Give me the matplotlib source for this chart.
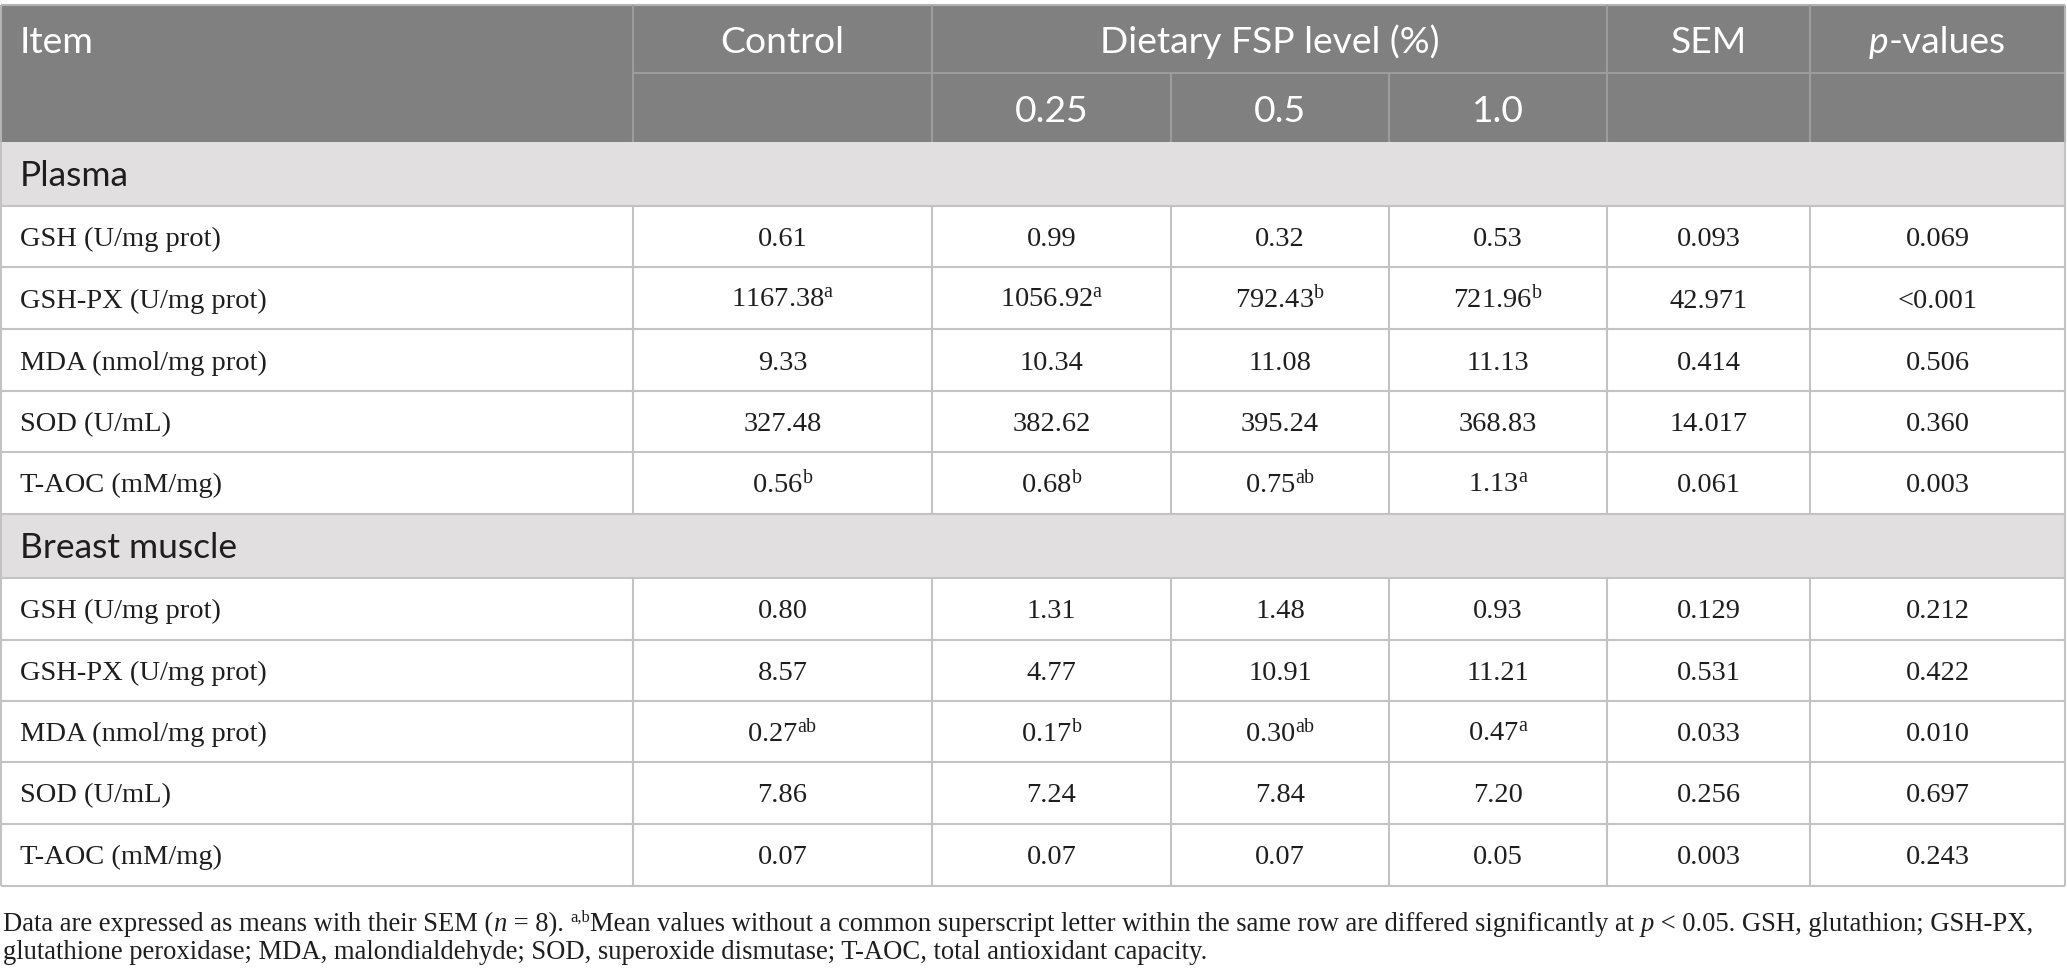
import matplotlib
matplotlib.use("Agg")
import matplotlib.pyplot as plt
from matplotlib.patches import Rectangle

# ---------------- data ----------------
items = ["GSH (U/mg prot)", "GSH-PX (U/mg prot)", "MDA (nmol/mg prot)",
         "SOD (U/mL)", "T-AOC (mM/mg)"]
sections = ["Plasma", "Breast muscle"]
group_labels = ["Control", "0.25", "0.5", "1.0"]
header_top = ["Item", "Control", "Dietary FSP level (%)", "SEM", "p-values"]

plasma_control = ["0.61", "1167.38", "9.33", "327.48", "0.56"]
plasma_025 = ["0.99", "1056.92", "10.34", "382.62", "0.68"]
plasma_05 = ["0.32", "792.43", "11.08", "395.24", "0.75"]
plasma_10 = ["0.53", "721.96", "11.13", "368.83", "1.13"]
plasma_sem = ["0.093", "42.971", "0.414", "14.017", "0.061"]
plasma_p = ["0.069", "<0.001", "0.506", "0.360", "0.003"]
plasma_sup = [["", "", "", ""], ["a", "a", "b", "b"], ["", "", "", ""],
              ["", "", "", ""], ["b", "b", "ab", "a"]]

breast_control = ["0.80", "8.57", "0.27", "7.86", "0.07"]
breast_025 = ["1.31", "4.77", "0.17", "7.24", "0.07"]
breast_05 = ["1.48", "10.91", "0.30", "7.84", "0.07"]
breast_10 = ["0.93", "11.21", "0.47", "7.20", "0.05"]
breast_sem = ["0.129", "0.531", "0.033", "0.256", "0.003"]
breast_p = ["0.212", "0.422", "0.010", "0.697", "0.243"]
breast_sup = [["", "", "", ""], ["", "", "", ""], ["ab", "b", "ab", "a"],
              ["", "", "", ""], ["", "", "", ""]]

footnote_1 = ["Data are expressed as means with their SEM (", "n", " = 8). ", "a,b",
              "Mean values without a common superscript letter within the same row are differed significantly at ",
              "p", " < 0.05. GSH, glutathion; GSH-PX,"]
footnote_2 = "glutathione peroxidase; MDA, malondialdehyde; SOD, superoxide dismutase; T-AOC, total antioxidant capacity."

# ---------------- style ----------------
plt.rcParams['mathtext.fontset'] = 'custom'
plt.rcParams['mathtext.rm'] = 'Liberation Serif'
plt.rcParams['mathtext.it'] = 'Liberation Serif:italic'
plt.rcParams['mathtext.bf'] = 'Liberation Serif:bold'

HEADER_BG = '#808080'
HEADER_LINE = '#9c9c9c'
SECTION_BG = '#e1dfe0'
GRID = '#c3c3c3'
TXT = '#1e1e1e'
SANS = 'Lato'
SERIF = 'Liberation Serif'
HFS = 26.8     # header font size (pt)
SFS = 25.5     # section font size
BFS = 20.5     # body font size
FFS = 18.4     # footnote font size (refit below to the line width)

W, H = 2067, 975
fig = plt.figure(figsize=(W / 100, H / 100), dpi=100)
ax = fig.add_axes([0, 0, 1, 1])
ax.set_xlim(0, W)
ax.set_ylim(H, 0)
ax.axis('off')

col_edges = [1, 633, 932, 1171, 1389, 1607, 1810, 2065]
row_edges = [5, 73, 142, 206, 267, 329, 391, 452, 514, 578, 640, 701, 762, 824, 886]

LW = 1.5


def hline(y, x0, x1, c=GRID, lw=LW):
    ax.plot([x0, x1], [y, y], color=c, lw=lw, solid_capstyle='butt', zorder=3)


def vline(x, y0, y1, c=GRID, lw=LW):
    ax.plot([x, x], [y0, y1], color=c, lw=lw, solid_capstyle='butt', zorder=3)


def rect(x0, y0, x1, y1, c):
    ax.add_patch(Rectangle((x0, y0), x1 - x0, y1 - y0, facecolor=c,
                           edgecolor='none', zorder=1))


fig.canvas.draw()
renderer = fig.canvas.get_renderer()


def runs_text(x, y, runs, ha='center'):
    """runs: list of (string, kwargs, rise). y is the baseline. Returns (objs, total width)."""
    objs, widths = [], []
    for s, kw, rise in runs:
        t = ax.text(0, y - rise, s, va='baseline', ha='left', zorder=5, **kw)
        bar = ax.text(0, y, '|', va='baseline', ha='left', **kw)
        both = ax.text(0, y, s + '|', va='baseline', ha='left', **kw)
        wb = bar.get_window_extent(renderer).width
        wt = both.get_window_extent(renderer).width
        bar.remove()
        both.remove()
        objs.append(t)
        widths.append(wt - wb)
    total = sum(widths)
    start = x - total / 2 if ha == 'center' else x
    for t, w in zip(objs, widths):
        t.set_x(start)
        start += w
    return objs, total


# ---------------- header ----------------
rect(col_edges[0], row_edges[0], col_edges[-1], row_edges[2], HEADER_BG)
hline(row_edges[0], col_edges[0], col_edges[-1], c='#b4b4b4')
hline(row_edges[1], col_edges[1], col_edges[-1], c=HEADER_LINE)
for xe in [col_edges[1], col_edges[2], col_edges[5], col_edges[6]]:
    vline(xe, row_edges[0], row_edges[2], c=HEADER_LINE)
for xe in [col_edges[3], col_edges[4]]:
    vline(xe, row_edges[1], row_edges[2], c=HEADER_LINE)
vline(col_edges[0], row_edges[0], row_edges[2], c='#b4b4b4')
vline(col_edges[-1], row_edges[0], row_edges[2], c='#b4b4b4')

hkw = dict(fontsize=HFS, family=SANS, color='white', fontweight='normal')
h1c = (row_edges[0] + row_edges[1]) / 2 + 14
h2c = (row_edges[1] + row_edges[2]) / 2 + 14
ax.text(20, h1c, header_top[0], va='baseline', ha='left', **hkw)
ax.text((col_edges[1] + col_edges[2]) / 2, h1c, header_top[1], va='baseline', ha='center', **hkw)
ax.text((col_edges[2] + col_edges[5]) / 2, h1c, header_top[2], va='baseline', ha='center', **hkw)
ax.text((col_edges[5] + col_edges[6]) / 2, h1c, header_top[3], va='baseline', ha='center', **hkw)
runs_text((col_edges[6] + col_edges[7]) / 2, h1c,
          [(header_top[4][0], dict(hkw, style='italic'), 0), (header_top[4][1:], hkw, 0)])
for j, lab in enumerate(group_labels[1:]):
    ax.text((col_edges[2 + j] + col_edges[3 + j]) / 2, h2c, lab,
            va='baseline', ha='center', **hkw)

# ---------------- body ----------------
plasma_cols = [plasma_control, plasma_025, plasma_05, plasma_10]
breast_cols = [breast_control, breast_025, breast_05, breast_10]
blocks = [(sections[0], plasma_cols, plasma_sem, plasma_p, plasma_sup),
          (sections[1], breast_cols, breast_sem, breast_p, breast_sup)]

bkw = dict(fontsize=BFS, family=SERIF, color=TXT)
r = 2
for name, cols, sem, pv, sup in blocks:
    y0, y1 = row_edges[r], row_edges[r + 1]
    rect(col_edges[0], y0, col_edges[-1], y1, SECTION_BG)
    ax.text(20, (y0 + y1) / 2 + 12, name, va='baseline', ha='left',
            fontsize=SFS, family=SANS, color=TXT, zorder=5)
    hline(y1, col_edges[0], col_edges[-1])
    vline(col_edges[0], y0, y1)
    vline(col_edges[-1], y0, y1)
    r += 1
    for i, item in enumerate(items):
        y0, y1 = row_edges[r], row_edges[r + 1]
        base = (y0 + y1) / 2 + 9.5
        ax.text(20, base, item, va='baseline', ha='left', zorder=5, **bkw)
        for j in range(4):
            s = cols[j][i]
            if sup[i][j]:
                s = s + r'$^{\rm ' + sup[i][j] + '}$'
            ax.text((col_edges[1 + j] + col_edges[2 + j]) / 2, base, s,
                    va='baseline', ha='center', zorder=5, **bkw)
        ax.text((col_edges[5] + col_edges[6]) / 2, base, sem[i],
                va='baseline', ha='center', zorder=5, **bkw)
        ax.text((col_edges[6] + col_edges[7]) / 2, base, pv[i],
                va='baseline', ha='center', zorder=5, **bkw)
        hline(y1, col_edges[0], col_edges[-1])
        for xe in col_edges:
            vline(xe, y0, y1)
        r += 1

# ---------------- footnote ----------------
FB1, FB2 = 931, 959
FX0, FX1 = 3, 2033


def footnote_runs(fs):
    fkw = dict(fontsize=fs, family=SERIF, color=TXT)
    fikw = dict(fkw, style='italic')
    fskw = dict(fkw, fontsize=fs * 0.62)
    styles = [fkw, fikw, fkw, fskw, fkw, fikw, fkw]
    rises = [0, 0, 0, fs * 0.5, 0, 0, 0]
    return [(s, st, rz) for s, st, rz in zip(footnote_1, styles, rises)], fkw


runs, fkw = footnote_runs(FFS)
objs, width = runs_text(FX0, FB1, runs, ha='left')
for o in objs:
    o.remove()
FFS = FFS * (FX1 - FX0) / width
runs, fkw = footnote_runs(FFS)
runs_text(FX0, FB1, runs, ha='left')
ax.text(FX0, FB2, footnote_2, va='baseline', ha='left', **fkw)

fig.savefig("out.png", dpi=100, facecolor='white')
